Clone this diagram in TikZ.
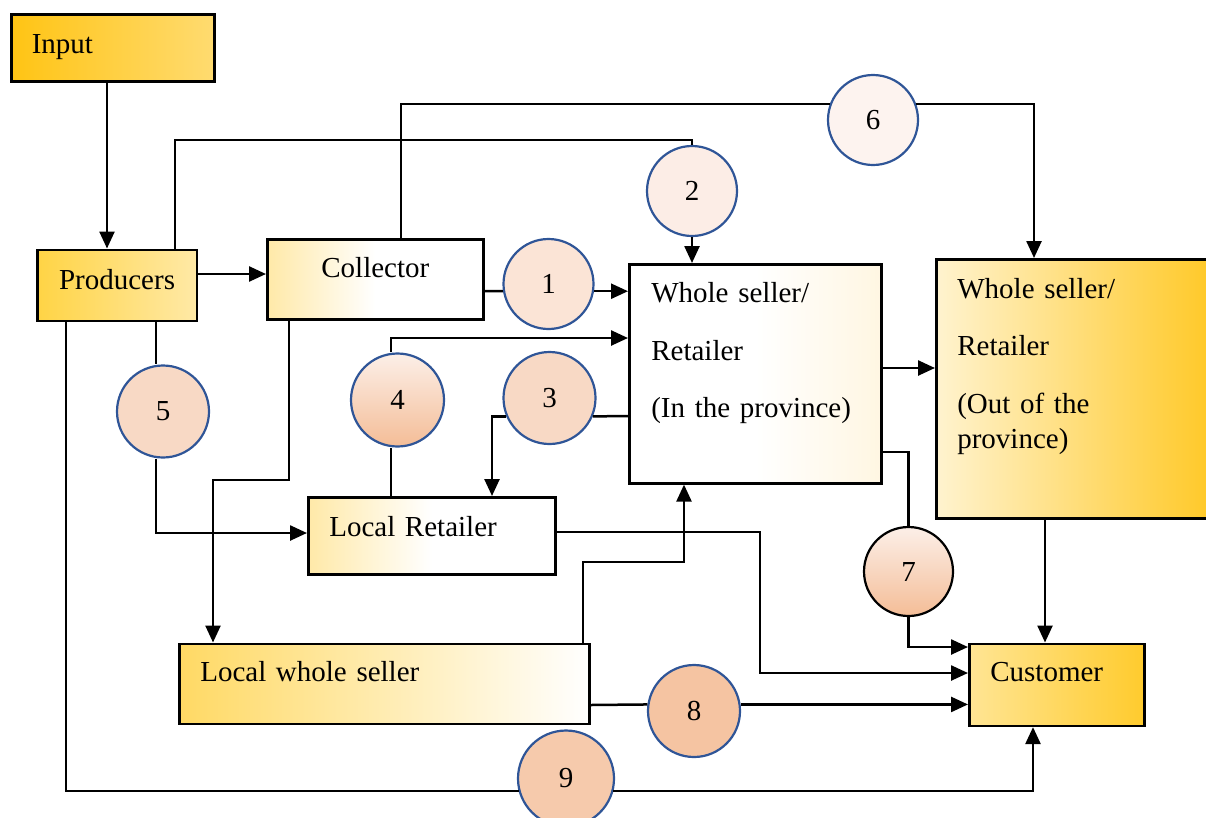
\documentclass[tikz,border=0pt]{standalone}
\usepackage{fontspec}
\setmainfont{Liberation Serif}
\usetikzlibrary{arrows.meta}

\definecolor{inA}{HTML}{FFC414}
\definecolor{inB}{HTML}{FFDB70}
\definecolor{prA}{HTML}{FFD445}
\definecolor{prB}{HTML}{FFE9A6}
\definecolor{cream}{HTML}{FFE9A8}
\definecolor{paleW}{HTML}{FFF6E2}
\definecolor{outA}{HTML}{FFF3CF}
\definecolor{outB}{HTML}{FFC928}
\definecolor{lwsA}{HTML}{FFD964}
\definecolor{cuA}{HTML}{FFE594}
\definecolor{cuB}{HTML}{FFCB2D}
\definecolor{rim}{HTML}{2F5597}
\definecolor{pchA}{HTML}{FBE4D6}
\definecolor{pchB}{HTML}{FCEDE6}
\definecolor{pchC}{HTML}{F8D9C5}
\definecolor{pchL}{HTML}{FCEFE8}
\definecolor{pchD}{HTML}{F4BD97}
\definecolor{pchE}{HTML}{FDF3EF}
\definecolor{pchF}{HTML}{F5C4A2}
\definecolor{pchG}{HTML}{F6CAAC}

\begin{document}
\begin{tikzpicture}[x=1pt, y=-1pt, font=\fontsize{29}{35}\selectfont,
  box/.style={draw, line width=2.6pt, anchor=north west, inner ysep=0pt, inner xsep=21pt, align=left},
  num/.style={draw=rim, line width=2.2pt, circle, minimum size=90pt, inner sep=0pt},
  link/.style={line width=2.5pt},
  arr/.style={link, -{Triangle[length=17pt,width=15pt]}}]
\useasboundingbox (0,0) rectangle (1206,817);

% Actors
\node[box, left color=inA, right color=inB, text width=162pt, inner xsep=20.5pt, text height=39.5pt, text depth=27.5pt] (Input) at (10,13) {Input};
\node[box, left color=prA, right color=prB, text width=149.5pt, inner xsep=5pt, align=center, text height=39.8pt, text depth=31.2pt] (Prod) at (36,248.5) {Producers};
\node[box, left color=cream, right color=white, middle color=white, text width=206pt, inner xsep=5pt, align=center, text height=38pt, text depth=42pt] (Coll) at (266,238) {Collector};
\node[box, left color=white, right color=paleW, middle color=white, text width=208pt, inner xsep=22pt, text height=38.5pt, text depth=180.5pt] (WSin) at (628,263) {Whole seller/\\[22.5pt]Retailer\\[22.5pt](In the province)};
\node[box, left color=outA, right color=outB, text width=233pt, text height=38.7pt, text depth=220.3pt] (WSout) at (935,258) {Whole seller/\\[22.5pt]Retailer\\[22.5pt](Out of the\\province)};
\node[box, left color=cream, right color=white, middle color=white, text width=205pt, text height=39pt, text depth=38pt] (LRet) at (307,496) {Local Retailer};
\node[box, left color=lwsA, right color=white, text width=368pt, text height=37.5pt, text depth=42.5pt] (LWS) at (178,642.5) {Local whole seller};
\node[box, left color=cuA, right color=cuB, text width=133pt, text height=37.5pt, text depth=44.5pt] (Cust) at (968,642.5) {Customer};

% Channels
\node[num, fill=pchA] (c1) at (548.5,284) {1};
\node[num, fill=pchB] (c2) at (692,191) {2};
\node[num, fill=pchC, minimum size=92pt] (c3) at (549.5,398) {3};
\node[num, top color=pchL, bottom color=pchD, minimum size=93pt] (c4) at (397.5,400) {4};
\node[num, fill=pchC, minimum size=92pt] (c5) at (163,411.5) {5};
\node[num, fill=pchE] (c6) at (873,120) {6};
\node[num, draw=black, top color=pchL, bottom color=pchD, minimum size=89pt] (c7) at (908.5,571.5) {7};
\node[num, fill=pchF, minimum size=92pt] (c8) at (694,711) {8};
\node[num, fill=pchG, minimum size=96pt] (c9) at (566,778.5) {9};

% Flows
\draw[arr] (Input.south -| 107,0) -- (Prod.north -| 107,0);
\draw[arr] (Prod.east |- 0,274) -- (Coll.west |- 0,274);
\draw[link] (Prod.north -| 175,0) |- (c2.north |- 0,140) -- (c2.north);
\draw[arr] (c2.south) -- (c2.south |- WSin.north);
\draw[link] (Coll.north -| 401,0) |- (c6.160);
\draw[arr] (c6.20) -| (WSout.north -| 1034,0);
\draw[link] (Coll.east |- 0,291) -- (c1.189);
\draw[arr] (c1.351) -- (c1.351 -| WSin.west);
\draw[link] (LRet.north -| 391,0) -- (c4.south -| 391,0);
\draw[arr] (c4.north -| 391,0) |- (WSin.west |- 0,338);
\draw[link] (WSin.west |- 0,416) -- (c3.337);
\draw[arr] (c3.203) -| (LRet.north -| 492,0);
\draw[link] (Prod.south -| 156,0) -- (c5.north -| 156,0);
\draw[arr] (c5.south -| 156,0) |- (LRet.west |- 0,533);
\draw[arr] (Coll.south -| 289,0) |- (213,480) -- (LWS.north -| 213,0);
\draw[arr] (LWS.north -| 583,0) |- (684,562) -- (WSin.south -| 684,0);
\draw[arr] (LRet.east |- 0,532) -| (760,673) -- (Cust.west |- 0,673);
\draw[arr] (WSin.east |- 0,368) -- (WSout.west |- 0,368);
\draw[link] (WSin.east |- 0,452) -| (c7.north);
\draw[arr] (c7.south) |- (Cust.west |- 0,647);
\draw[link] (LWS.east |- 0,705) -- (c8.172);
\draw[arr] (c8.8) -- (c8.8 -| Cust.west);
\draw[link] (Prod.south -| 66,0) |- (c9.195);
\draw[arr] (c9.345) -| (Cust.south -| 1033,0);
\draw[arr] (WSout.south -| 1045,0) -- (Cust.north -| 1045,0);
\end{tikzpicture}
\end{document}
